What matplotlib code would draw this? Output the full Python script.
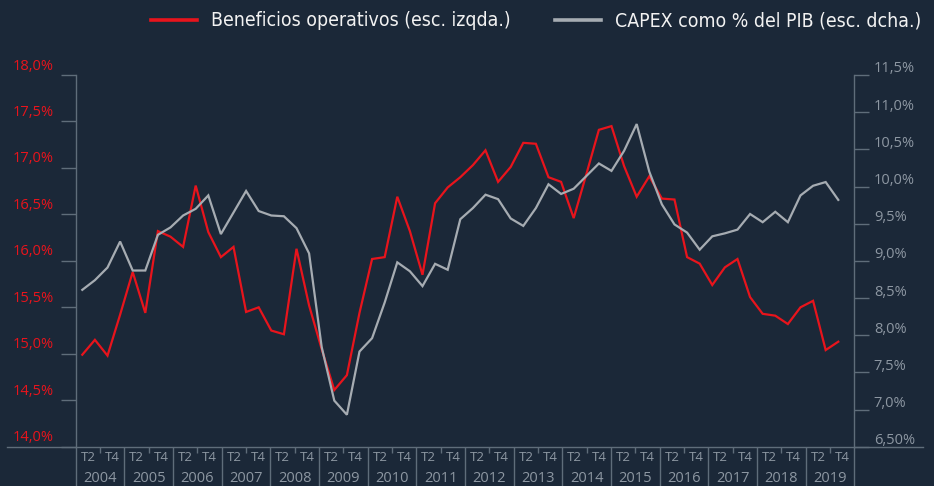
import matplotlib
matplotlib.use('Agg')
import matplotlib.pyplot as plt
import numpy as np
from matplotlib.transforms import ScaledTranslation, blended_transform_factory
from matplotlib.lines import Line2D
from matplotlib.font_manager import FontProperties

# ---------------- data ----------------
beneficios = [14.99, 15.15, 14.98, 15.42, 15.88, 15.44, 16.32, 16.26, 16.15, 16.81,
              16.31, 16.04, 16.15, 15.45, 15.50, 15.25, 15.21, 16.13, 15.52, 15.05,
              14.61, 14.77, 15.44, 16.02, 16.04, 16.69, 16.32, 15.85, 16.62, 16.79,
              16.90, 17.03, 17.19, 16.85, 17.01, 17.27, 17.26, 16.90, 16.85, 16.46,
              16.93, 17.41, 17.45, 17.02, 16.69, 16.91, 16.67, 16.66, 16.04, 15.97,
              15.74, 15.93, 16.02, 15.61, 15.43, 15.41, 15.32, 15.50, 15.57, 15.04,
              15.13]
capex = [8.61, 8.74, 8.91, 9.26, 8.87, 8.87, 9.35, 9.45, 9.61, 9.70,
         9.88, 9.36, 9.65, 9.94, 9.67, 9.61, 9.60, 9.44, 9.10, 7.84,
         7.12, 6.93, 7.78, 7.96, 8.44, 8.98, 8.86, 8.66, 8.96, 8.88,
         9.56, 9.71, 9.89, 9.83, 9.57, 9.47, 9.71, 10.03, 9.90, 9.97,
         10.14, 10.31, 10.21, 10.48, 10.84, 10.20, 9.76, 9.49, 9.38, 9.15,
         9.33, 9.37, 9.42, 9.63, 9.52, 9.66, 9.52, 9.88, 10.01, 10.06,
         9.82]
years = [str(y) for y in range(2004, 2020)]
sub_labels = ['T2', 'T4']
left_ticks = [14.0, 14.5, 15.0, 15.5, 16.0, 16.5, 17.0, 17.5, 18.0]
left_labels = ['14,0%', '14,5%', '15,0%', '15,5%', '16,0%', '16,5%', '17,0%', '17,5%', '18,0%']
right_ticks = [6.5, 7.0, 7.5, 8.0, 8.5, 9.0, 9.5, 10.0, 10.5, 11.0, 11.5]
right_labels = ['6,50%', '7,0%', '7,5%', '8,0%', '8,5%', '9,0%', '9,5%', '10,0%', '10,5%', '11,0%', '11,5%']
series_names = ['Beneficios operativos (esc. izqda.)', 'CAPEX como % del PIB (esc. dcha.)']

# ---------------- style ----------------
BG = '#1b2838'
RED = '#e8141c'
GREY = '#a6acb2'
AXC = '#5f6d7a'
TXT_GREY = '#8d97a2'
W, H = 934, 486
L, R, B, T = 75.7, 854.4, 446.7, 75.0

plt.rcParams['font.family'] = ['Open Sans', 'DejaVu Sans']

fig = plt.figure(figsize=(W / 100, H / 100), dpi=100, facecolor=BG)
ax = fig.add_axes([L / W, 1 - B / H, (R - L) / W, (B - T) / H])
ax.set_facecolor(BG)

x = np.arange(len(beneficios))
ax.plot(x, beneficios, color=RED, lw=1.6, solid_joinstyle='miter')
ax.set_xlim(-0.524, 61.28)
ax.set_ylim(14, 18)
ax.set_xticks([])
ax.set_yticks(left_ticks)
ax.set_yticklabels(left_labels)
ax.tick_params(axis='y', colors=AXC, labelcolor=RED, length=11, width=1, pad=5, labelsize=10.5)
for s in ['top', 'bottom', 'right']:
    ax.spines[s].set_visible(False)
ax.spines['left'].set_color(AXC)
ax.spines['left'].set_linewidth(1)
for lab in ax.get_yticklabels():
    lab.set_transform(lab.get_transform() + ScaledTranslation(0, 11 / 100, fig.dpi_scale_trans))

axr = ax.twinx()
axr.plot(x, capex, color=GREY, lw=1.6, solid_joinstyle='miter')
axr.set_ylim(6.5, 11.5)
axr.set_yticks(right_ticks)
axr.set_yticklabels(right_labels)
axr.tick_params(axis='y', colors=AXC, labelcolor=TXT_GREY, length=11, width=1, pad=3, labelsize=10.5)
for s in ['top', 'bottom', 'left']:
    axr.spines[s].set_visible(False)
axr.spines['right'].set_color(AXC)
axr.spines['right'].set_linewidth(1)
for lab in axr.get_yticklabels():
    lab.set_transform(lab.get_transform() + ScaledTranslation(0, 8 / 100, fig.dpi_scale_trans))

# category axis (years / quarters)
axc = ax.twiny()
axc.xaxis.set_ticks_position('bottom')
axc.set_xlim(0, len(years))
axc.set_xticks(np.arange(len(years) + 1))
axc.set_xticklabels([])
axc.set_xticks(np.arange(len(years)) + 0.5, minor=True)
axc.tick_params(axis='x', which='major', direction='out', length=30, width=1, color=AXC)
axc.tick_params(axis='x', which='minor', direction='out', length=4.5, width=1, color=AXC)
for s in axc.spines.values():
    s.set_visible(False)
tr = blended_transform_factory(axc.transData, fig.transFigure)
for i, yr in enumerate(years):
    axc.text(i + 0.25, 1 - 457 / H, sub_labels[0], transform=tr, ha='center', va='center',
             color=TXT_GREY, fontsize=9.5)
    axc.text(i + 0.75, 1 - 457 / H, sub_labels[1], transform=tr, ha='center', va='center',
             color=TXT_GREY, fontsize=9.5)
    axc.text(i + 0.5, 1 - 485.5 / H, yr, transform=tr, ha='center', va='bottom',
             color=TXT_GREY, fontsize=10.5)

# baseline
fig.add_artist(Line2D([7 / W, 923 / W], [1 - B / H, 1 - B / H], color=AXC, lw=1))

# legend: condensed font if available, sized so the first label is ~300 px wide
leg_font = FontProperties(family=['DejaVu Sans'], stretch='condensed', size=13.5)
renderer = fig.canvas.get_renderer()
probe = fig.text(0, 0, series_names[0], fontproperties=leg_font)
wpx = probe.get_window_extent(renderer).width
probe.remove()
leg_font.set_size(13.5 * 300.0 / wpx)
handles = [Line2D([], [], color=RED, lw=2.6), Line2D([], [], color=GREY, lw=2.6)]
fs_px = leg_font.get_size() * 100 / 72
fig.legend(handles, series_names, ncol=2, loc='center', bbox_to_anchor=(0.574, 0.957),
           frameon=False, handlelength=46 / fs_px, handletextpad=14 / fs_px, columnspacing=45 / fs_px,
           prop=leg_font, labelcolor='#f2f2f2')

fig.savefig('out.png', dpi=100, facecolor=BG)
